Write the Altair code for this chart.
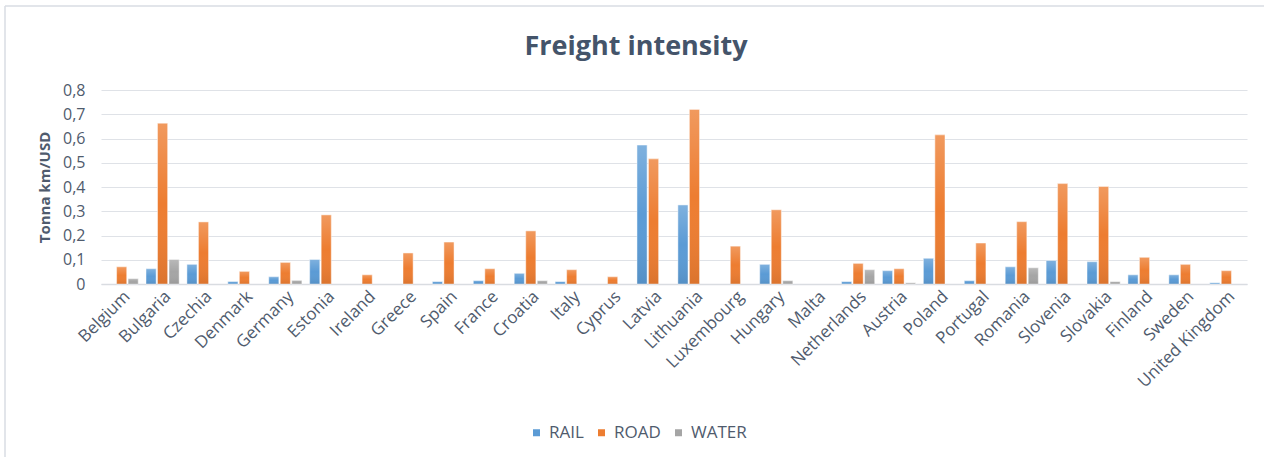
import altair as alt
import pandas as pd

countries = [
    "Belgium", "Bulgaria", "Czechia", "Denmark", "Germany", "Estonia", "Ireland",
    "Greece", "Spain", "France", "Croatia", "Italy", "Cyprus", "Latvia",
    "Lithuania", "Luxembourg", "Hungary", "Malta", "Netherlands", "Austria",
    "Poland", "Portugal", "Romania", "Slovenia", "Slovakia", "Finland", "Sweden",
    "United Kingdom",
]
rail = [0, 0.063, 0.081, 0.010, 0.030, 0.101, 0, 0, 0.010, 0.014, 0.044, 0.010, 0,
        0.573, 0.326, 0, 0.081, 0, 0.010, 0.055, 0.106, 0.014, 0.071, 0.097, 0.092,
        0.038, 0.038, 0.005]
road = [0.071, 0.663, 0.256, 0.052, 0.089, 0.285, 0.038, 0.128, 0.173, 0.063, 0.219,
        0.059, 0.030, 0.516, 0.720, 0.156, 0.306, 0, 0.085, 0.063, 0.615, 0.169,
        0.257, 0.414, 0.402, 0.110, 0.081, 0.055]
water = [0.022, 0.101, 0, 0, 0.015, 0, 0, 0, 0, 0, 0.014, 0, 0, 0, 0, 0, 0.014, 0,
         0.059, 0.005, 0, 0, 0.067, 0, 0.010, 0, 0, 0]
modes = ["RAIL", "ROAD", "WATER"]
mode_colors = ["#5b9bd5", "#ed7d31", "#a5a5a5"]
y_ticks = [0, 0.1, 0.2, 0.3, 0.4, 0.5, 0.6, 0.7, 0.8]
chart_title = "Freight intensity"

FONT = "Open Sans"
TEXT = "#4f5b6d"

rows = []
for mode, vals in zip(modes, [rail, road, water]):
    for c, v in zip(countries, vals):
        if v > 0:
            rows.append({"country": c, "mode": mode, "value": v})
df = pd.DataFrame(rows)

x_enc = alt.X("country:N",
              scale=alt.Scale(domain=countries, paddingInner=0.19, paddingOuter=0.1),
              axis=alt.Axis(title=None, labelAngle=-45, labelFontSize=17, labelColor=TEXT,
                            labelFont=FONT, labelPadding=4, ticks=False,
                            domainColor="#d9dce1", domainWidth=1.5, grid=False,
                            labelOverlap=False))
xoff = alt.XOffset("mode:N", scale=alt.Scale(domain=modes, paddingInner=0.12, paddingOuter=0))
y_enc = alt.Y("value:Q", scale=alt.Scale(domain=[0, 0.8], nice=False),
              axis=alt.Axis(title="Tonna km/USD", values=y_ticks,
                            labelExpr="datum.value == 0 ? '0' : replace(format(datum.value, '.1f'), '.', ',')",
                            labelFontSize=16, labelColor=TEXT, labelFont=FONT, labelPadding=16,
                            ticks=False, domain=False, gridColor="#dfe2e7", gridWidth=1.2,
                            titleFontSize=15, titleFont=FONT, titleFontWeight="bold",
                            titleColor=TEXT, titlePadding=10))

bars = alt.Chart(df).mark_bar(stroke="white", strokeWidth=0.8, strokeOpacity=0.6).encode(
    x=x_enc,
    xOffset=xoff,
    y=y_enc,
    color=alt.Color("mode:N", scale=alt.Scale(domain=modes, range=mode_colors), legend=alt.Legend(
        title=None, orient="none", legendX=427, legendY=334, direction="horizontal",
        symbolType="square", symbolSize=49, symbolStrokeWidth=0, labelFontSize=17,
        labelFont=FONT, labelColor=TEXT, columnPadding=9, labelOffset=4)),
)

# soft vertical shading on every bar: lighter top, slightly darker base
shade = alt.Chart(df).mark_bar(color=alt.Gradient(
    gradient="linear", x1=0, x2=0, y1=0, y2=1,
    stops=[alt.GradientStop(color="rgba(255,255,255,0.22)", offset=0),
           alt.GradientStop(color="rgba(255,255,255,0)", offset=0.5),
           alt.GradientStop(color="rgba(0,0,0,0.08)", offset=1)])).encode(
    x=x_enc, xOffset=xoff, y=y_enc,
)

one = pd.DataFrame({"k": [0]})
frame_top = alt.Chart(one).mark_rule(color="#d9dde3", strokeWidth=1.5).encode(
    x=alt.value(-96), x2=alt.value(1163), y=alt.value(-84))
frame_left = alt.Chart(one).mark_rule(color="#d9dde3", strokeWidth=1.5).encode(
    x=alt.value(-96), y=alt.value(-84), y2=alt.value(367))
heading = alt.Chart(one).mark_text(
    font=FONT, fontSize=27, fontWeight="bold", color="#44546a",
    align="center", baseline="alphabetic").encode(
    x=alt.value(535), y=alt.value(-35), text=alt.value(chart_title))

chart = alt.layer(frame_top, frame_left, heading, bars, shade).properties(
    width=1146, height=194,
    autosize=alt.AutoSizeParams(type="none"),
    padding={"left": 101, "top": 90, "right": 17, "bottom": 173},
    background="white",
).configure_view(stroke=None)

chart.save("out.html", embed_options={"renderer": "svg", "actions": False})
